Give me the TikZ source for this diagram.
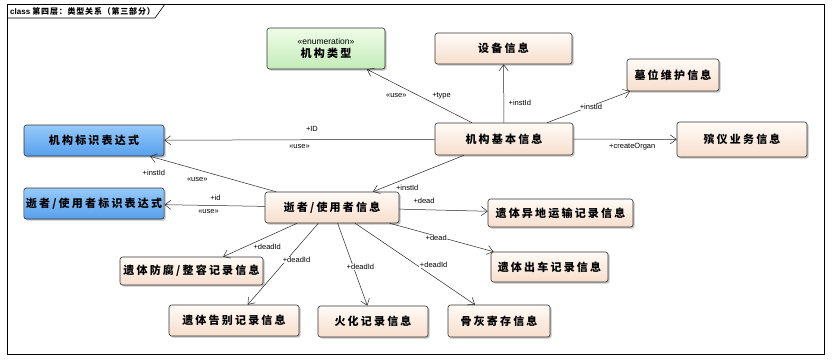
\documentclass[tikz,border=0pt]{standalone}
\usepackage{fontspec}
\usepackage{tikz}
\usetikzlibrary{arrows.meta,shadows}
\newfontfamily\cjkfont[LetterSpace=20]{Noto Sans CJK SC}
\newfontfamily\cjktitle[LetterSpace=10]{Noto Sans CJK SC}
\newfontfamily\lblfont{Liberation Sans}
\definecolor{peachtop}{RGB}{255,251,247}
\definecolor{peachbot}{RGB}{247,222,204}
\definecolor{greentop}{RGB}{238,252,232}
\definecolor{greenbot}{RGB}{196,236,184}
\definecolor{bluetop}{RGB}{150,202,250}
\definecolor{bluebot}{RGB}{88,160,236}

\begin{document}
\begin{tikzpicture}[x=1pt, y=-1pt,
  font=\lblfont\fontsize{7.5}{9}\selectfont,
  box/.style={draw=black!80, line width=0.6pt, rounded corners=2.5pt, align=center, inner sep=2pt,
    font=\cjkfont\bfseries\fontsize{11}{13}\selectfont,
    drop shadow={shadow xshift=1.6pt, shadow yshift=-1.6pt, fill=black!40, opacity=0.6}},
  info/.style={box, top color=peachtop, bottom color=peachbot},
  enum/.style={box, top color=greentop, bottom color=greenbot},
  ident/.style={box, top color=bluetop, bottom color=bluebot},
  lbl/.style={fill=white, inner sep=0.6pt},
  conn/.style={->, draw=black!85, line width=0.5pt},
  >={Straight Barb[length=6pt,width=9pt]}]
  \useasboundingbox (0,0) rectangle (836,360);
  % frame and title tab
  \draw[line width=0.8pt] (7,4) rectangle (824,354);
  \draw[line width=0.6pt] (7,18) -- (155,18) -- (165,4);
  \node[anchor=west, inner sep=0pt, font=\lblfont\fontsize{8}{9}\selectfont] (title) at (10,11)
    {\bfseries class {\cjktitle\bfseries 第四层：类型关系（第三部分）}};
  % classes
  \node[enum, minimum width=118pt, minimum height=41pt] (orgtype) at (326,48.5)
    {{\lblfont\mdseries\fontsize{8.5}{10}\selectfont «enumeration»}\\机构类型};
  \node[info, minimum width=137pt, minimum height=31pt] (device) at (503.5,48.5) {设备信息};
  \node[info, minimum width=138pt, minimum height=32pt] (orgbase) at (504,139) {机构基本信息};
  \node[info, minimum width=92pt, minimum height=32pt] (grave) at (673,75) {墓位维护信息};
  \node[info, minimum width=130pt, minimum height=35pt] (funeral) at (742,139.5) {殡仪业务信息};
  \node[ident, minimum width=140pt, minimum height=31pt] (orgid) at (94,140.5) {机构标识表达式};
  \node[ident, minimum width=140pt, minimum height=31pt] (deadid) at (94,203.5) {逝者/使用者标识表达式};
  \node[info, minimum width=134pt, minimum height=31pt] (dead) at (332,207.5) {逝者/使用者信息};
  \node[info, minimum width=145pt, minimum height=28pt] (transport) at (560.5,213) {遗体异地运输记录信息};
  \node[info, minimum width=117pt, minimum height=30pt] (vehicle) at (549.5,267) {遗体出车记录信息};
  \node[info, minimum width=143pt, minimum height=28pt] (embalm) at (191.5,271) {遗体防腐/整容记录信息};
  \node[info, minimum width=130pt, minimum height=31pt] (farewell) at (234,320.5) {遗体告别记录信息};
  \node[info, minimum width=110pt, minimum height=31pt] (cremate) at (373,321.5) {火化记录信息};
  \node[info, minimum width=102pt, minimum height=32pt] (ashes) at (499,321) {骨灰寄存信息};
  % associations of 机构基本信息
  \draw[conn] (orgbase) -- (orgtype)
    node[lbl, pos=0.5, left=12pt] {«use»} node[lbl, pos=0.5, right=12pt] {+type};
  \draw[conn] (orgbase) -- (device) node[lbl, pos=0.34, right=4pt] {+instId};
  \draw[conn] (orgbase) -- (grave) node[lbl, pos=0.53, yshift=-1pt] {+instId};
  \draw[conn] (orgbase) -- (funeral) node[lbl, pos=0.57, below=3.5pt] {+createOrgan};
  \draw[conn] (orgbase) -- (orgid)
    node[lbl, pos=0.454, above=7pt] {+ID} node[lbl, pos=0.5, below=4pt] {«use»};
  \draw[conn] ([xshift=-40pt]orgbase.south) -- ([xshift=41pt]dead.north)
    node[lbl, pos=0.8, anchor=north west, xshift=4pt] {+instId};
  % associations of 逝者/使用者信息
  \draw[conn] (dead) -- (orgid)
    node[lbl, pos=0.97, below=12pt] {+instId} node[lbl, pos=0.625, below=7pt] {«use»};
  \draw[conn] (dead) -- (deadid)
    node[lbl, pos=0.49, above=4pt] {+id} node[lbl, pos=0.56, below=3pt] {«use»};
  \draw[conn] (dead) -- (transport) node[lbl, pos=0.28, above=5pt] {+dead};
  \draw[conn] (dead) -- (vehicle) node[lbl, pos=0.447, yshift=-2pt] {+dead};
  \draw[conn] (dead) -- (embalm) node[lbl, pos=0.6, anchor=north west] {+deadId};
  \draw[conn] (dead) -- (farewell) node[lbl, pos=0.45, xshift=10pt] {+deadId};
  \draw[conn] (dead) -- (cremate) node[lbl, pos=0.53, xshift=7pt] {+deadId};
  \draw[conn] (dead) -- (ashes) node[lbl, pos=0.55, anchor=south west, xshift=-2pt] {+deadId};
\end{tikzpicture}
\end{document}
